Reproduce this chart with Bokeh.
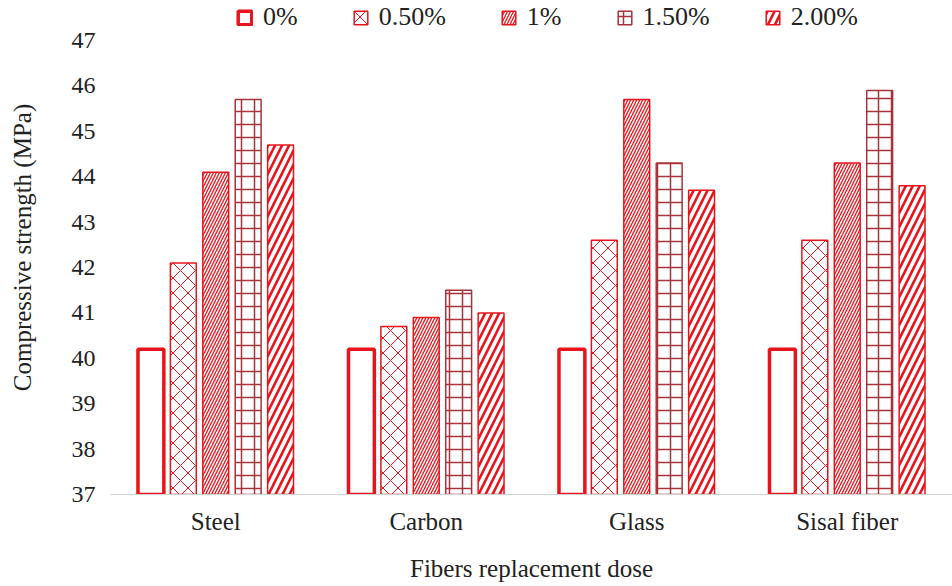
from bokeh.plotting import figure
from bokeh.models import ColumnDataSource, FactorRange, Range1d, FixedTicker, Legend, LegendItem
from bokeh.transform import dodge
from bokeh.embed import file_html
from bokeh.resources import INLINE

categories = ["Steel", "Carbon", "Glass", "Sisal fiber"]
series_names = ["0%", "0.50%", "1%", "1.50%", "2.00%"]
dose_0 = [40.2, 40.2, 40.2, 40.2]
dose_050 = [42.1, 40.7, 42.6, 42.6]
dose_1 = [44.1, 40.9, 45.7, 44.3]
dose_150 = [45.7, 41.5, 44.3, 45.9]
dose_200 = [44.7, 41.0, 43.7, 43.8]
y_ticks = [37, 38, 39, 40, 41, 42, 43, 44, 45, 46, 47]

source = ColumnDataSource(data=dict(cat=categories, d0=dose_0, d050=dose_050,
                                    d1=dose_1, d150=dose_150, d200=dose_200))

FONT = "Liberation Serif"
RED = "#e8141c"
DARK = "#a8323a"

p = figure(width=952, height=586, x_range=FactorRange(factors=categories, range_padding=0),
           y_range=Range1d(37, 47.88), output_backend="svg", toolbar_location=None,
           min_border_left=110, min_border_right=0, min_border_top=0, min_border_bottom=92)
p.outline_line_color = None
p.xgrid.visible = False
p.ygrid.visible = False

bw = 0.123
pitch = 0.154
styles = [
    dict(col="d0", fill_color="white", line_color=RED, line_width=3.5, hatch_pattern=None),
    dict(col="d050", fill_color="white", line_color=RED, line_width=1.5, hatch_pattern="x",
         hatch_color=RED, hatch_scale=15, hatch_weight=1),
    dict(col="d1", fill_color="white", line_color=RED, line_width=1.5, hatch_pattern="/",
         hatch_color=RED, hatch_scale=6, hatch_weight=1.3),
    dict(col="d150", fill_color="white", line_color=DARK, line_width=1.5, hatch_pattern="+",
         hatch_color=DARK, hatch_scale=13, hatch_weight=1.5),
    dict(col="d200", fill_color="white", line_color=RED, line_width=1.5, hatch_pattern="/",
         hatch_color=RED, hatch_scale=14, hatch_weight=2.6),
]

items = []
for i, (name, st) in enumerate(zip(series_names, styles)):
    st = dict(st)
    col = st.pop("col")
    hp = st.pop("hatch_pattern")
    kw = dict(st)
    if hp is not None:
        kw["hatch_pattern"] = hp
    r = p.vbar(x=dodge("cat", (i - 2) * pitch, range=p.x_range), top=col, bottom=37,
               width=bw, source=source, **kw)
    items.append(LegendItem(label=name, renderers=[r]))

legend = Legend(items=items, orientation="horizontal", location=(126, 462),
                label_text_font=FONT, label_text_font_size="26px", label_text_color="#222222",
                glyph_width=17, glyph_height=17, spacing=54, label_standoff=10,
                padding=0, margin=0, border_line_color=None, background_fill_alpha=0)
p.add_layout(legend, "center")

p.yaxis.ticker = FixedTicker(ticks=y_ticks)
p.yaxis.axis_line_color = None
p.yaxis.major_tick_line_color = None
p.yaxis.minor_tick_line_color = None
p.yaxis.major_tick_out = 0
p.yaxis.major_label_standoff = 15
p.yaxis.axis_label = "Compressive strength (MPa)"
p.yaxis.axis_label_standoff = 33

p.xaxis.axis_line_color = "#d0d0d0"
p.xaxis.major_tick_line_color = None
p.xaxis.major_tick_out = 0
p.xaxis.major_label_standoff = 13
p.xaxis.axis_label = "Fibers replacement dose"
p.xaxis.axis_label_standoff = 17

for ax in (p.xaxis[0], p.yaxis[0]):
    ax.major_label_text_font = FONT
    ax.major_label_text_color = "#222222"
    ax.axis_label_text_font = FONT
    ax.axis_label_text_font_size = "25px"
    ax.axis_label_text_font_style = "normal"
    ax.axis_label_text_color = "#222222"
p.yaxis.major_label_text_font_size = "24px"
p.xaxis.major_label_text_font_size = "25px"

open("out.html", "w").write(file_html(p, INLINE))
